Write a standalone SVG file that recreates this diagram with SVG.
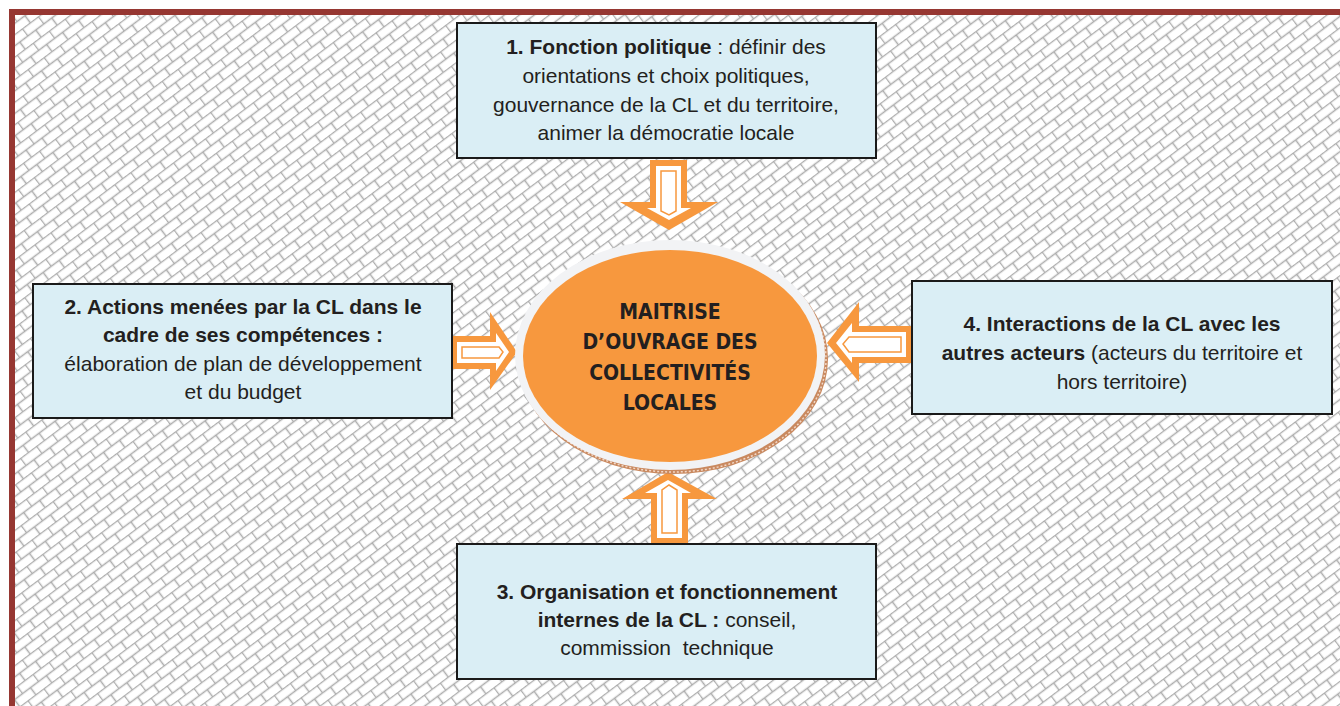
<svg xmlns="http://www.w3.org/2000/svg" width="1340" height="706" viewBox="0 0 1340 706">
<defs>
<pattern id="brick" width="20" height="18" patternUnits="userSpaceOnUse" patternTransform="rotate(-37)">
<rect width="20" height="18" fill="#ffffff"/>
<path d="M0 0.5H20M0 9.5H20M0.5 0V9M10.5 9V18" stroke="#adadad" stroke-width="1.5" fill="none"/>
</pattern>
<style>
.box{fill:#daeef5;stroke:#1a1a1a;stroke-width:2}
.t{font-family:"Liberation Sans",Arial,sans-serif;font-size:21px;fill:#231f20;text-anchor:middle}
.b{font-weight:bold}
.c{font-family:"Liberation Sans Narrow","DejaVu Sans Condensed","Liberation Sans",sans-serif;font-weight:bold;font-size:21px;fill:#231f20;text-anchor:middle}
.arr{fill:#f7983e}
.inw{fill:#ffffff}
.ino{fill:#ffffff;stroke:#f7983e;stroke-width:1.5}
</style>
</defs>
<rect x="0" y="0" width="1340" height="706" fill="#ffffff"/>
<rect x="12" y="12" width="1330" height="700" fill="url(#brick)"/>
<path d="M12 706V12H1340" fill="none" stroke="#963732" stroke-width="6"/>

<g id="connectors">
<g id="arrow-top">
<polygon class="arr" points="650,160 687,160 687,202 718,202 669,230 620,202 650,202"/>
<polygon class="inw" points="656,166 681,166 681,208 691,208 669,220 647,208 656,208"/>
<polygon class="ino" points="661,171 676,171 676,211 669,215 661,211"/>
</g>
<g id="arrow-left">
<polygon class="arr" points="452,336 490,336 490,312 517,352 490,390 490,369 452,369"/>
<polygon class="inw" points="457,342 496,342 496,333 509,352 496,371 496,363 457,363"/>
<polygon class="ino" points="462,347 499,347 503,352 499,358 462,358"/>
</g>
<g id="arrow-right">
<polygon class="arr" points="912,326 859,326 859,302 827,343 859,382 859,363 912,363"/>
<polygon class="inw" points="906,332 852,332 852,323 836,343 852,363 852,357 906,357"/>
<polygon class="ino" points="901,337 849,337 843,344 849,352 901,352"/>
</g>
<g id="arrow-bottom">
<polygon class="arr" points="651,544 688,544 688,499 717,499 668,472 622,499 651,499"/>
<polygon class="inw" points="657,538 682,538 682,493 691,493 668,480 645,493 657,493"/>
<polygon class="ino" points="662,533 677,533 677,490 669,485 662,490"/>
</g>
</g>

<g id="center">
<ellipse cx="673" cy="359" rx="155" ry="115" fill="#c9895f"/>
<ellipse cx="673" cy="359" rx="153" ry="113" fill="none" stroke="#f2d8c8" stroke-width="1.5" stroke-dasharray="2 2"/>
<ellipse cx="670" cy="355" rx="155" ry="115" fill="#f2f3f5"/>
<ellipse cx="670" cy="356" rx="147" ry="106" fill="#f7983e"/>
<text class="c" x="670" y="319">MAITRISE</text>
<text class="c" x="670" y="349">D’OUVRAGE DES</text>
<text class="c" x="670" y="380">COLLECTIVITÉS</text>
<text class="c" x="670" y="410">LOCALES</text>
</g>

<g id="box1">
<rect class="box" x="457" y="23" width="419" height="135"/>
<text class="t" x="666" y="54"><tspan class="b">1. Fonction politique</tspan> : définir des</text>
<text class="t" x="666" y="83">orientations et choix politiques,</text>
<text class="t" x="666" y="112">gouvernance de la CL et du territoire,</text>
<text class="t" x="666" y="140">animer la démocratie locale</text>
</g>

<g id="box2">
<rect class="box" x="33" y="284" width="419" height="134"/>
<text class="t b" x="243" y="314">2. Actions menées par la CL dans le</text>
<text class="t b" x="243" y="342">cadre de ses compétences :</text>
<text class="t" x="243" y="371">élaboration de plan de développement</text>
<text class="t" x="243" y="399">et du budget</text>
</g>

<g id="box4">
<rect class="box" x="912" y="281" width="420" height="133"/>
<text class="t b" x="1122" y="331">4. Interactions de la CL avec les</text>
<text class="t" x="1122" y="360"><tspan class="b">autres acteurs</tspan> (acteurs du territoire et</text>
<text class="t" x="1122" y="389">hors territoire)</text>
</g>

<g id="box3">
<rect class="box" x="457" y="544" width="419" height="135"/>
<text class="t b" x="667" y="599">3. Organisation et fonctionnement</text>
<text class="t" x="667" y="627" xml:space="preserve"><tspan class="b">internes de la CL :</tspan> conseil,</text>
<text class="t" x="667" y="655" xml:space="preserve">commission  technique</text>
</g>
</svg>
